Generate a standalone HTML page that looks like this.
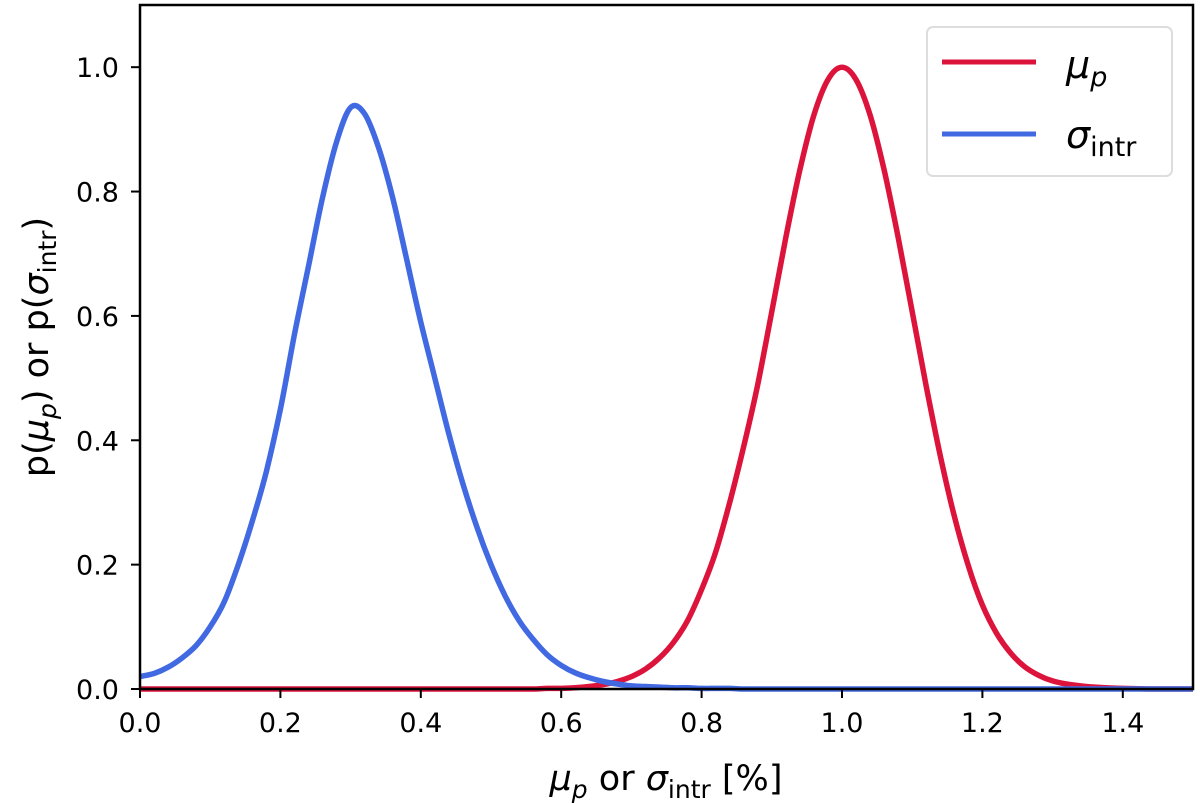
<!DOCTYPE html>
<html><head><meta charset="utf-8"><style>
body{margin:0;background:#fff;}
svg{display:block;font-family:"DejaVu Sans","Liberation Sans",sans-serif;}
</style></head><body>
<svg id="chart" width="1200" height="803" viewBox="0 0 1200 803">
<g id="series"></g>
<rect x="140" y="5" width="1053" height="684" fill="none" stroke="#000" stroke-width="2.5"/>
<g id="ticks"></g>
<text x="666" y="790" font-size="35" text-anchor="middle"><tspan font-style="italic">μ</tspan><tspan font-style="italic" font-size="25" dy="8">p</tspan><tspan dy="-8"> or </tspan><tspan font-style="italic">σ</tspan><tspan font-size="25" dy="8">intr</tspan><tspan dy="-8"> [%]</tspan></text>
<text transform="translate(48,347) rotate(-90)" font-size="35" text-anchor="middle">p(<tspan font-style="italic">μ</tspan><tspan font-style="italic" font-size="25" dy="8">p</tspan><tspan dy="-8">) or p(</tspan><tspan font-style="italic">σ</tspan><tspan font-size="25" dy="8">intr</tspan><tspan dy="-8">)</tspan></text>
<g>
<rect x="927" y="27" width="245" height="149" rx="6" fill="#fff" stroke="#ddd" stroke-width="2"/>
<line x1="942" y1="62" x2="1036" y2="62" stroke="#dc143c" stroke-width="5"/>
<text x="1066" y="78" font-size="38" font-style="italic">μ<tspan font-size="27" dy="8">p</tspan></text>
<line x1="942" y1="134" x2="1036" y2="134" stroke="#4169e1" stroke-width="5"/>
<text x="1066" y="148" font-size="38"><tspan font-style="italic">σ</tspan><tspan font-size="27" dy="8">intr</tspan></text>
</g>
</svg>
<script>
const xs = [0,0.02,0.04,0.06,0.08,0.10,0.12,0.14,0.16,0.18,0.20,0.22,0.24,0.26,0.28,0.30,0.32,0.34,0.36,0.38,0.40,0.42,0.44,0.46,0.48,0.50,0.52,0.54,0.56,0.58,0.60,0.62,0.64,0.66,0.68,0.70,0.72,0.74,0.76,0.78,0.80,0.82,0.84,0.86,0.88,0.90,0.92,0.94,0.96,0.98,1.00,1.02,1.04,1.06,1.08,1.10,1.12,1.14,1.16,1.18,1.20,1.22,1.24,1.26,1.28,1.30,1.32,1.34,1.36,1.40,1.45,1.50];
const sigmaVals = [0.02,0.025,0.035,0.05,0.07,0.10,0.14,0.20,0.27,0.35,0.45,0.57,0.68,0.79,0.88,0.935,0.925,0.87,0.79,0.69,0.59,0.50,0.41,0.33,0.26,0.20,0.15,0.11,0.08,0.055,0.038,0.026,0.018,0.012,0.008,0.005,0.004,0.003,0.002,0.002,0.001,0.001,0.001,0,0,0,0,0,0,0,0,0,0,0,0,0,0,0,0,0,0,0,0,0,0,0,0,0,0,0,0,0];
const muVals = [0,0,0,0,0,0,0,0,0,0,0,0,0,0,0,0,0,0,0,0,0,0,0,0,0,0,0,0,0,0.001,0.001,0.002,0.004,0.007,0.012,0.02,0.032,0.05,0.075,0.11,0.16,0.22,0.3,0.39,0.49,0.607,0.726,0.835,0.923,0.98,1.0,0.98,0.923,0.835,0.726,0.607,0.487,0.375,0.278,0.198,0.135,0.09,0.058,0.036,0.022,0.013,0.008,0.005,0.003,0.001,0,0];
const xTicks = [0,0.2,0.4,0.6,0.8,1.0,1.2,1.4];
const yTicks = [0,0.2,0.4,0.6,0.8,1.0];
const NS='http://www.w3.org/2000/svg';
const X = v => 140 + v/1.5*1053;
const Y = v => 689 - v/1.1*684;
const tg=document.getElementById('ticks');
xTicks.forEach(t=>{
 const l=document.createElementNS(NS,'line');
 l.setAttribute('x1',X(t));l.setAttribute('x2',X(t));l.setAttribute('y1',689);l.setAttribute('y2',698);
 l.setAttribute('stroke','#000');l.setAttribute('stroke-width','2');
 
 
 tg.appendChild(l);
 const tx=document.createElementNS(NS,'text');
 tx.setAttribute('x',X(t));tx.setAttribute('y',732);tx.setAttribute('font-size','27');tx.setAttribute('text-anchor','middle');
 tx.textContent=t.toFixed(1);
 
 
 tg.appendChild(tx);
});
yTicks.forEach(t=>{
 const l=document.createElementNS(NS,'line');
 l.setAttribute('x1',131);l.setAttribute('x2',140);l.setAttribute('y1',Y(t));l.setAttribute('y2',Y(t));
 l.setAttribute('stroke','#000');l.setAttribute('stroke-width','2');
 
 
 tg.appendChild(l);
 const tx=document.createElementNS(NS,'text');
 tx.setAttribute('x',119);tx.setAttribute('y',Y(t)+10);tx.setAttribute('font-size','27');tx.setAttribute('text-anchor','end');
 tx.textContent=t.toFixed(1);
 
 
 tg.appendChild(tx);
});
const sg=document.getElementById('series');
function line(vals,color,name){
 const pts=vals.map((v,i)=>[X(xs[i]),Y(v)]);
 let d='M'+pts[0][0].toFixed(1)+','+pts[0][1].toFixed(1);
 for(let i=0;i<pts.length-1;i++){
  const p0=pts[Math.max(0,i-1)],p1=pts[i],p2=pts[i+1],p3=pts[Math.min(pts.length-1,i+2)];
  const c1=[p1[0]+(p2[0]-p0[0])/6,p1[1]+(p2[1]-p0[1])/6];
  const c2=[p2[0]-(p3[0]-p1[0])/6,p2[1]-(p3[1]-p1[1])/6];
  d+='C'+c1.map(n=>n.toFixed(1)).join(',')+' '+c2.map(n=>n.toFixed(1)).join(',')+' '+p2.map(n=>n.toFixed(1)).join(',');
 }
 const p=document.createElementNS(NS,'path');
 p.setAttribute('d',d);
 p.setAttribute('fill','none');p.setAttribute('stroke',color);p.setAttribute('stroke-width','5.5');p.setAttribute('stroke-linejoin','round');
 
 
 sg.appendChild(p);
}
line(muVals,'#dc143c','mu-p-curve');
line(sigmaVals,'#4169e1','sigma-intr-curve');
</script>
</body></html>
